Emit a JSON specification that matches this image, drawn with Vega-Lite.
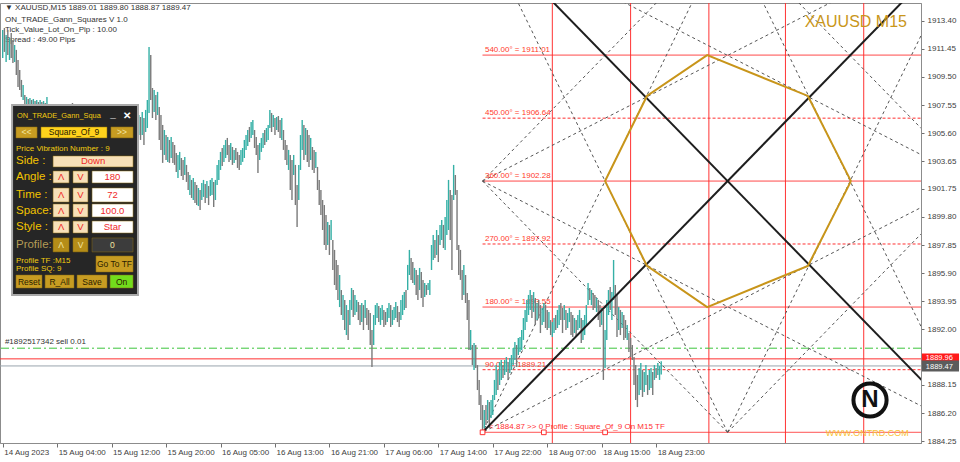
{
"$schema":"https://vega.github.io/schema/vega-lite/v6.json",
"width":921,"height":440,
"autosize":{"type":"none"},
"padding":{"left":0,"top":3,"right":39,"bottom":19},
"background":"white",
"config":{"view":{"stroke":"#8c8c8c","strokeWidth":1},"font":"Liberation Sans","text":{"font":"Liberation Sans"}},
"datasets":{
"bars":[
{"i":0,"h":1912.75,"l":1910.81,"u":1},{"i":1,"h":1912.89,"l":1911.23,"u":0},{"i":2,"h":1912.40,"l":1910.53,"u":1},{"i":3,"h":1912.75,"l":1911.02,"u":0},{"i":4,"h":1912.20,"l":1910.67,"u":1},{"i":5,"h":1912.54,"l":1910.81,"u":0},{"i":6,"h":1912.06,"l":1910.46,"u":0},{"i":7,"h":1911.71,"l":1910.53,"u":1},{"i":8,"h":1911.37,"l":1909.63,"u":0},{"i":9,"h":1910.67,"l":1908.80,"u":0},
{"i":10,"h":1909.98,"l":1908.59,"u":0},{"i":11,"h":1909.29,"l":1908.11,"u":0},{"i":12,"h":1908.94,"l":1907.90,"u":1},{"i":13,"h":1908.25,"l":1907.35,"u":0},{"i":14,"h":1908.11,"l":1907.07,"u":1},{"i":15,"h":1907.97,"l":1906.86,"u":0},{"i":16,"h":1908.04,"l":1906.65,"u":1},{"i":17,"h":1907.90,"l":1906.51,"u":0},{"i":18,"h":1907.97,"l":1906.79,"u":1},{"i":19,"h":1907.83,"l":1906.65,"u":0},
{"i":20,"h":1907.90,"l":1906.93,"u":1},{"i":21,"h":1907.76,"l":1906.72,"u":0},{"i":22,"h":1907.90,"l":1906.51,"u":1},{"i":23,"h":1907.76,"l":1906.38,"u":0},{"i":24,"h":1907.83,"l":1906.58,"u":1},{"i":25,"h":1907.69,"l":1906.44,"u":0},{"i":26,"h":1908.11,"l":1906.86,"u":1},{"i":27,"h":1907.55,"l":1906.17,"u":0},{"i":28,"h":1907.35,"l":1905.82,"u":0},{"i":29,"h":1907.07,"l":1905.47,"u":0},
{"i":30,"h":1906.86,"l":1905.27,"u":1},{"i":31,"h":1906.65,"l":1905.13,"u":0},{"i":32,"h":1906.86,"l":1905.40,"u":1},{"i":33,"h":1907.07,"l":1905.68,"u":1},{"i":34,"h":1907.21,"l":1905.82,"u":1},{"i":35,"h":1907.35,"l":1905.96,"u":0},{"i":36,"h":1907.21,"l":1905.75,"u":1},{"i":37,"h":1907.42,"l":1906.17,"u":1},{"i":38,"h":1907.49,"l":1906.24,"u":0},{"i":39,"h":1907.35,"l":1906.03,"u":1},
{"i":40,"h":1907.55,"l":1906.38,"u":1},{"i":41,"h":1907.69,"l":1906.51,"u":0},{"i":42,"h":1907.42,"l":1906.10,"u":0},{"i":43,"h":1907.21,"l":1905.82,"u":0},{"i":44,"h":1907.00,"l":1905.54,"u":0},{"i":45,"h":1906.79,"l":1905.27,"u":1},{"i":46,"h":1906.51,"l":1904.99,"u":0},{"i":47,"h":1906.65,"l":1905.13,"u":1},{"i":48,"h":1906.38,"l":1904.78,"u":0},{"i":49,"h":1906.17,"l":1904.57,"u":0},
{"i":50,"h":1906.38,"l":1904.85,"u":1},{"i":51,"h":1906.10,"l":1904.44,"u":0},{"i":52,"h":1905.82,"l":1904.30,"u":0},{"i":53,"h":1906.03,"l":1904.57,"u":1},{"i":54,"h":1906.24,"l":1904.71,"u":1},{"i":55,"h":1905.96,"l":1904.44,"u":0},{"i":56,"h":1905.68,"l":1904.09,"u":0},{"i":57,"h":1905.82,"l":1904.23,"u":1},{"i":58,"h":1906.03,"l":1904.50,"u":1},{"i":59,"h":1906.24,"l":1904.78,"u":1},
{"i":60,"h":1906.10,"l":1904.64,"u":0},{"i":61,"h":1905.89,"l":1904.30,"u":0},{"i":62,"h":1905.68,"l":1904.02,"u":0},{"i":63,"h":1905.47,"l":1903.88,"u":0},{"i":64,"h":1905.75,"l":1904.16,"u":1},{"i":65,"h":1905.96,"l":1904.44,"u":1},{"i":66,"h":1906.17,"l":1904.71,"u":1},{"i":67,"h":1906.38,"l":1904.92,"u":1},{"i":68,"h":1906.10,"l":1904.57,"u":0},{"i":69,"h":1905.89,"l":1904.37,"u":0},
{"i":70,"h":1906.17,"l":1904.71,"u":1},{"i":71,"h":1906.44,"l":1904.99,"u":1},{"i":72,"h":1906.65,"l":1905.20,"u":1},{"i":73,"h":1906.44,"l":1904.92,"u":0},{"i":74,"h":1906.24,"l":1904.71,"u":0},{"i":75,"h":1906.51,"l":1905.06,"u":1},{"i":76,"h":1906.72,"l":1905.34,"u":1},{"i":77,"h":1906.58,"l":1905.13,"u":0},{"i":78,"h":1906.38,"l":1904.85,"u":0},{"i":79,"h":1906.65,"l":1905.27,"u":1},
{"i":80,"h":1906.86,"l":1905.47,"u":1},{"i":81,"h":1906.72,"l":1905.13,"u":0},{"i":82,"h":1907.07,"l":1905.47,"u":1},{"i":83,"h":1906.65,"l":1904.78,"u":0},{"i":84,"h":1907.21,"l":1905.68,"u":1},{"i":85,"h":1907.90,"l":1905.96,"u":1},{"i":86,"h":1911.57,"l":1907.00,"u":1},{"i":87,"h":1911.02,"l":1907.90,"u":0},{"i":88,"h":1908.73,"l":1906.65,"u":0},{"i":89,"h":1908.59,"l":1907.07,"u":1},
{"i":90,"h":1908.25,"l":1906.51,"u":0},{"i":91,"h":1908.46,"l":1906.86,"u":1},{"i":92,"h":1907.42,"l":1905.13,"u":0},{"i":93,"h":1906.86,"l":1904.44,"u":0},{"i":94,"h":1906.17,"l":1903.54,"u":0},{"i":95,"h":1905.82,"l":1904.09,"u":1},{"i":96,"h":1905.47,"l":1903.74,"u":0},{"i":97,"h":1905.34,"l":1903.61,"u":1},{"i":98,"h":1905.13,"l":1903.54,"u":0},{"i":99,"h":1905.34,"l":1903.88,"u":1},
{"i":100,"h":1904.99,"l":1903.54,"u":0},{"i":101,"h":1904.78,"l":1903.40,"u":0},{"i":102,"h":1904.23,"l":1902.91,"u":0},{"i":103,"h":1904.09,"l":1902.50,"u":1},{"i":104,"h":1904.30,"l":1903.05,"u":1},{"i":105,"h":1903.88,"l":1902.63,"u":0},{"i":106,"h":1903.74,"l":1902.36,"u":0},{"i":107,"h":1903.95,"l":1902.70,"u":1},{"i":108,"h":1903.40,"l":1902.22,"u":0},{"i":109,"h":1902.91,"l":1901.66,"u":0},
{"i":110,"h":1902.70,"l":1901.32,"u":1},{"i":111,"h":1902.36,"l":1901.11,"u":0},{"i":112,"h":1902.50,"l":1900.97,"u":1},{"i":113,"h":1902.22,"l":1900.76,"u":0},{"i":114,"h":1902.01,"l":1900.62,"u":0},{"i":115,"h":1901.80,"l":1900.55,"u":1},{"i":116,"h":1901.66,"l":1900.28,"u":0},{"i":117,"h":1902.15,"l":1900.97,"u":1},{"i":118,"h":1902.36,"l":1901.18,"u":1},{"i":119,"h":1902.08,"l":1900.76,"u":0},
{"i":120,"h":1902.29,"l":1901.11,"u":1},{"i":121,"h":1901.94,"l":1900.62,"u":0},{"i":122,"h":1902.36,"l":1901.25,"u":1},{"i":123,"h":1902.50,"l":1901.32,"u":1},{"i":124,"h":1902.22,"l":1900.48,"u":0},{"i":125,"h":1902.36,"l":1900.97,"u":1},{"i":126,"h":1903.40,"l":1902.01,"u":1},{"i":127,"h":1903.74,"l":1902.36,"u":1},{"i":128,"h":1904.30,"l":1903.05,"u":1},{"i":129,"h":1904.57,"l":1903.33,"u":0},
{"i":130,"h":1904.78,"l":1903.61,"u":1},{"i":131,"h":1905.13,"l":1903.88,"u":1},{"i":132,"h":1905.27,"l":1904.09,"u":0},{"i":133,"h":1904.78,"l":1903.61,"u":0},{"i":134,"h":1904.92,"l":1903.74,"u":1},{"i":135,"h":1904.64,"l":1903.40,"u":0},{"i":136,"h":1904.44,"l":1903.54,"u":1},{"i":137,"h":1904.57,"l":1903.74,"u":0},{"i":138,"h":1904.30,"l":1903.19,"u":0},{"i":139,"h":1904.09,"l":1903.05,"u":0},
{"i":140,"h":1904.44,"l":1903.40,"u":1},{"i":141,"h":1904.57,"l":1903.61,"u":1},{"i":142,"h":1905.13,"l":1903.88,"u":1},{"i":143,"h":1905.47,"l":1904.44,"u":1},{"i":144,"h":1905.82,"l":1904.71,"u":1},{"i":145,"h":1906.03,"l":1904.99,"u":0},{"i":146,"h":1906.38,"l":1905.27,"u":1},{"i":147,"h":1906.51,"l":1905.47,"u":1},{"i":148,"h":1905.82,"l":1904.57,"u":0},{"i":149,"h":1905.34,"l":1904.09,"u":0},
{"i":150,"h":1904.78,"l":1902.84,"u":0},{"i":151,"h":1904.92,"l":1903.74,"u":1},{"i":152,"h":1905.27,"l":1904.30,"u":1},{"i":153,"h":1905.61,"l":1904.57,"u":1},{"i":154,"h":1905.82,"l":1904.78,"u":0},{"i":155,"h":1905.96,"l":1904.99,"u":1},{"i":156,"h":1906.17,"l":1905.13,"u":1},{"i":157,"h":1907.21,"l":1905.96,"u":1},{"i":158,"h":1907.00,"l":1905.68,"u":0},{"i":159,"h":1906.86,"l":1906.03,"u":1},
{"i":160,"h":1906.65,"l":1905.47,"u":0},{"i":161,"h":1906.72,"l":1905.82,"u":1},{"i":162,"h":1906.79,"l":1905.68,"u":0},{"i":163,"h":1906.51,"l":1905.27,"u":0},{"i":164,"h":1906.65,"l":1905.13,"u":1},{"i":165,"h":1905.82,"l":1904.44,"u":0},{"i":166,"h":1905.13,"l":1903.74,"u":0},{"i":167,"h":1904.78,"l":1903.40,"u":0},{"i":168,"h":1904.44,"l":1903.05,"u":1},{"i":169,"h":1904.09,"l":1901.66,"u":0},
{"i":170,"h":1903.74,"l":1900.97,"u":0},{"i":171,"h":1904.09,"l":1902.70,"u":1},{"i":172,"h":1903.40,"l":1900.62,"u":0},{"i":173,"h":1902.01,"l":1899.10,"u":0},{"i":174,"h":1903.40,"l":1900.97,"u":1},{"i":175,"h":1905.47,"l":1903.05,"u":1},{"i":176,"h":1906.51,"l":1904.44,"u":1},{"i":177,"h":1906.17,"l":1903.74,"u":0},{"i":178,"h":1905.96,"l":1904.09,"u":1},{"i":179,"h":1905.82,"l":1903.61,"u":0},
{"i":180,"h":1905.47,"l":1903.26,"u":0},{"i":181,"h":1905.27,"l":1903.74,"u":1},{"i":182,"h":1904.64,"l":1903.05,"u":0},{"i":183,"h":1904.44,"l":1902.84,"u":0},{"i":184,"h":1904.30,"l":1903.19,"u":1},{"i":185,"h":1903.26,"l":1901.66,"u":0},{"i":186,"h":1902.36,"l":1900.62,"u":0},{"i":187,"h":1901.66,"l":1899.93,"u":0},{"i":188,"h":1900.97,"l":1898.89,"u":0},{"i":189,"h":1900.62,"l":1897.85,"u":0},
{"i":190,"h":1899.93,"l":1897.51,"u":0},{"i":191,"h":1899.45,"l":1897.85,"u":1},{"i":192,"h":1899.24,"l":1897.16,"u":0},{"i":193,"h":1899.58,"l":1898.20,"u":1},{"i":194,"h":1898.20,"l":1896.12,"u":0},{"i":195,"h":1897.51,"l":1895.08,"u":0},{"i":196,"h":1896.81,"l":1894.73,"u":0},{"i":197,"h":1896.47,"l":1894.04,"u":0},{"i":198,"h":1895.77,"l":1893.55,"u":1},{"i":199,"h":1894.73,"l":1893.00,"u":0},
{"i":200,"h":1894.39,"l":1892.65,"u":1},{"i":201,"h":1894.04,"l":1891.96,"u":0},{"i":202,"h":1893.69,"l":1891.61,"u":1},{"i":203,"h":1893.35,"l":1891.27,"u":0},{"i":204,"h":1894.04,"l":1892.31,"u":1},{"i":205,"h":1894.87,"l":1893.35,"u":1},{"i":206,"h":1894.73,"l":1892.86,"u":0},{"i":207,"h":1894.39,"l":1893.00,"u":1},{"i":208,"h":1894.04,"l":1893.21,"u":1},{"i":209,"h":1893.90,"l":1892.65,"u":0},
{"i":210,"h":1893.69,"l":1892.31,"u":0},{"i":211,"h":1893.83,"l":1892.51,"u":1},{"i":212,"h":1893.69,"l":1891.96,"u":0},{"i":213,"h":1894.04,"l":1892.79,"u":1},{"i":214,"h":1893.49,"l":1892.31,"u":0},{"i":215,"h":1893.35,"l":1891.96,"u":0},{"i":216,"h":1893.14,"l":1890.92,"u":0},{"i":217,"h":1891.96,"l":1889.40,"u":0},{"i":218,"h":1893.00,"l":1890.92,"u":1},{"i":219,"h":1893.69,"l":1892.31,"u":1},
{"i":220,"h":1893.83,"l":1892.79,"u":1},{"i":221,"h":1893.62,"l":1892.51,"u":0},{"i":222,"h":1893.49,"l":1892.31,"u":1},{"i":223,"h":1893.69,"l":1892.65,"u":1},{"i":224,"h":1893.35,"l":1892.17,"u":0},{"i":225,"h":1893.21,"l":1892.31,"u":0},{"i":226,"h":1893.49,"l":1892.51,"u":1},{"i":227,"h":1893.83,"l":1892.79,"u":1},{"i":228,"h":1893.69,"l":1892.17,"u":0},{"i":229,"h":1893.35,"l":1892.31,"u":1},
{"i":230,"h":1893.56,"l":1892.65,"u":1},{"i":231,"h":1893.90,"l":1892.79,"u":1},{"i":232,"h":1893.62,"l":1892.51,"u":0},{"i":233,"h":1893.21,"l":1892.17,"u":0},{"i":234,"h":1894.04,"l":1892.65,"u":1},{"i":235,"h":1894.39,"l":1893.00,"u":1},{"i":236,"h":1894.59,"l":1893.35,"u":1},{"i":237,"h":1894.73,"l":1893.49,"u":0},{"i":238,"h":1896.47,"l":1894.73,"u":1},{"i":239,"h":1897.51,"l":1895.77,"u":1},
{"i":240,"h":1896.95,"l":1895.43,"u":0},{"i":241,"h":1896.67,"l":1895.22,"u":0},{"i":242,"h":1896.26,"l":1895.08,"u":1},{"i":243,"h":1896.12,"l":1894.39,"u":0},{"i":244,"h":1895.77,"l":1894.04,"u":0},{"i":245,"h":1896.26,"l":1894.73,"u":1},{"i":246,"h":1895.98,"l":1894.18,"u":0},{"i":247,"h":1895.43,"l":1893.56,"u":0},{"i":248,"h":1895.22,"l":1894.25,"u":1},{"i":249,"h":1895.08,"l":1894.39,"u":0},
{"i":250,"h":1895.22,"l":1894.73,"u":1},{"i":251,"h":1895.43,"l":1894.39,"u":1},{"i":252,"h":1897.85,"l":1896.12,"u":1},{"i":253,"h":1898.54,"l":1896.81,"u":1},{"i":254,"h":1898.20,"l":1896.95,"u":0},{"i":255,"h":1898.89,"l":1897.16,"u":1},{"i":256,"h":1898.54,"l":1896.67,"u":0},{"i":257,"h":1899.24,"l":1897.85,"u":1},{"i":258,"h":1899.58,"l":1898.20,"u":1},{"i":259,"h":1899.24,"l":1897.64,"u":0},
{"i":260,"h":1899.79,"l":1897.51,"u":1},{"i":261,"h":1900.97,"l":1898.54,"u":1},{"i":262,"h":1902.36,"l":1898.89,"u":1},{"i":263,"h":1901.66,"l":1898.20,"u":0},{"i":264,"h":1901.32,"l":1896.12,"u":0},{"i":265,"h":1903.40,"l":1900.97,"u":1},{"i":266,"h":1902.70,"l":1901.32,"u":0},{"i":267,"h":1901.66,"l":1897.51,"u":0},{"i":268,"h":1897.85,"l":1895.77,"u":0},{"i":269,"h":1897.51,"l":1895.43,"u":0},
{"i":270,"h":1896.12,"l":1894.04,"u":0},{"i":271,"h":1896.47,"l":1894.39,"u":1},{"i":272,"h":1895.77,"l":1893.83,"u":0},{"i":273,"h":1894.52,"l":1892.65,"u":0},{"i":274,"h":1894.04,"l":1890.57,"u":0},{"i":275,"h":1891.96,"l":1890.57,"u":1},{"i":276,"h":1890.92,"l":1889.53,"u":0},{"i":277,"h":1891.06,"l":1889.19,"u":1},{"i":278,"h":1890.92,"l":1889.33,"u":0},{"i":279,"h":1889.53,"l":1887.80,"u":0},
{"i":280,"h":1888.50,"l":1886.76,"u":0},{"i":281,"h":1887.46,"l":1885.72,"u":0},{"i":282,"h":1886.76,"l":1884.87,"u":0},{"i":283,"h":1886.42,"l":1885.17,"u":1},{"i":284,"h":1886.76,"l":1885.38,"u":0},{"i":285,"h":1887.11,"l":1885.72,"u":1},{"i":286,"h":1886.97,"l":1885.17,"u":0},{"i":287,"h":1887.11,"l":1885.86,"u":1},{"i":288,"h":1887.46,"l":1886.07,"u":1},{"i":289,"h":1888.50,"l":1887.11,"u":1},
{"i":290,"h":1889.53,"l":1887.46,"u":1},{"i":291,"h":1889.19,"l":1887.80,"u":0},{"i":292,"h":1889.74,"l":1888.15,"u":1},{"i":293,"h":1889.88,"l":1888.50,"u":1},{"i":294,"h":1889.53,"l":1888.63,"u":0},{"i":295,"h":1889.88,"l":1888.84,"u":1},{"i":296,"h":1890.09,"l":1889.05,"u":1},{"i":297,"h":1889.74,"l":1888.50,"u":0},{"i":298,"h":1890.02,"l":1888.98,"u":1},{"i":299,"h":1890.23,"l":1889.19,"u":1},
{"i":300,"h":1890.71,"l":1889.53,"u":1},{"i":301,"h":1891.13,"l":1889.88,"u":1},{"i":302,"h":1890.92,"l":1889.40,"u":0},{"i":303,"h":1891.41,"l":1890.23,"u":1},{"i":304,"h":1891.48,"l":1890.43,"u":1},{"i":305,"h":1891.96,"l":1890.57,"u":1},{"i":306,"h":1892.79,"l":1891.27,"u":1},{"i":307,"h":1893.35,"l":1891.96,"u":1},{"i":308,"h":1894.04,"l":1892.51,"u":1},{"i":309,"h":1894.39,"l":1893.00,"u":1},
{"i":310,"h":1894.73,"l":1893.35,"u":1},{"i":311,"h":1894.39,"l":1892.79,"u":0},{"i":312,"h":1894.59,"l":1893.21,"u":1},{"i":313,"h":1894.18,"l":1892.31,"u":0},{"i":314,"h":1893.83,"l":1892.65,"u":1},{"i":315,"h":1894.04,"l":1892.79,"u":0},{"i":316,"h":1893.69,"l":1891.75,"u":0},{"i":317,"h":1893.49,"l":1892.31,"u":1},{"i":318,"h":1893.83,"l":1892.51,"u":1},{"i":319,"h":1893.69,"l":1892.10,"u":0},
{"i":320,"h":1893.35,"l":1891.96,"u":0},{"i":321,"h":1893.21,"l":1892.10,"u":1},{"i":322,"h":1892.65,"l":1891.61,"u":0},{"i":323,"h":1892.51,"l":1891.48,"u":1},{"i":324,"h":1892.79,"l":1891.75,"u":1},{"i":325,"h":1893.00,"l":1891.96,"u":0},{"i":326,"h":1893.35,"l":1892.10,"u":1},{"i":327,"h":1893.69,"l":1892.31,"u":1},{"i":328,"h":1893.83,"l":1892.65,"u":0},{"i":329,"h":1893.49,"l":1891.75,"u":0},
{"i":330,"h":1893.69,"l":1892.65,"u":1},{"i":331,"h":1893.35,"l":1891.96,"u":0},{"i":332,"h":1893.14,"l":1892.10,"u":1},{"i":333,"h":1893.49,"l":1892.51,"u":1},{"i":334,"h":1893.21,"l":1891.61,"u":0},{"i":335,"h":1893.00,"l":1891.48,"u":0},{"i":336,"h":1892.79,"l":1891.75,"u":1},{"i":337,"h":1892.65,"l":1891.48,"u":0},{"i":338,"h":1893.00,"l":1891.96,"u":1},{"i":339,"h":1893.35,"l":1892.10,"u":1},
{"i":340,"h":1892.79,"l":1891.06,"u":0},{"i":341,"h":1892.65,"l":1891.27,"u":1},{"i":342,"h":1893.00,"l":1891.61,"u":1},{"i":343,"h":1893.69,"l":1892.31,"u":1},{"i":344,"h":1895.22,"l":1893.69,"u":1},{"i":345,"h":1894.87,"l":1894.04,"u":0},{"i":346,"h":1894.73,"l":1893.69,"u":1},{"i":347,"h":1894.52,"l":1893.35,"u":0},{"i":348,"h":1894.39,"l":1893.49,"u":0},{"i":349,"h":1894.18,"l":1893.21,"u":1},
{"i":350,"h":1894.04,"l":1892.65,"u":0},{"i":351,"h":1893.69,"l":1892.17,"u":0},{"i":352,"h":1893.49,"l":1892.31,"u":1},{"i":353,"h":1893.35,"l":1888.50,"u":0},{"i":354,"h":1891.96,"l":1889.33,"u":1},{"i":355,"h":1894.04,"l":1891.27,"u":1},{"i":356,"h":1894.73,"l":1893.00,"u":1},{"i":357,"h":1894.94,"l":1893.35,"u":0},{"i":358,"h":1894.59,"l":1892.65,"u":1},{"i":359,"h":1896.81,"l":1894.04,"u":1},
{"i":360,"h":1895.08,"l":1893.00,"u":0},{"i":361,"h":1894.39,"l":1891.48,"u":0},{"i":362,"h":1893.56,"l":1891.96,"u":1},{"i":363,"h":1893.35,"l":1891.61,"u":0},{"i":364,"h":1893.21,"l":1892.10,"u":1},{"i":365,"h":1893.00,"l":1891.27,"u":0},{"i":366,"h":1892.65,"l":1891.41,"u":0},{"i":367,"h":1892.31,"l":1891.27,"u":1},{"i":368,"h":1891.75,"l":1890.43,"u":0},{"i":369,"h":1891.41,"l":1890.09,"u":0},
{"i":370,"h":1890.92,"l":1889.88,"u":0},{"i":371,"h":1890.09,"l":1888.15,"u":0},{"i":372,"h":1889.53,"l":1887.11,"u":0},{"i":373,"h":1888.84,"l":1886.62,"u":0},{"i":374,"h":1889.33,"l":1887.46,"u":1},{"i":375,"h":1889.67,"l":1887.80,"u":1},{"i":376,"h":1889.19,"l":1887.32,"u":0},{"i":377,"h":1889.05,"l":1887.67,"u":1},{"i":378,"h":1889.53,"l":1888.15,"u":1},{"i":379,"h":1888.84,"l":1887.46,"u":0},
{"i":380,"h":1889.19,"l":1887.80,"u":1},{"i":381,"h":1889.33,"l":1887.94,"u":1},{"i":382,"h":1889.05,"l":1887.46,"u":0},{"i":383,"h":1889.53,"l":1888.50,"u":1},{"i":384,"h":1889.33,"l":1888.63,"u":0},{"i":385,"h":1889.67,"l":1888.84,"u":1},{"i":386,"h":1889.46,"l":1888.50,"u":1},{"i":387,"h":1889.80,"l":1888.87,"u":1}
],
"vlines":[{"t":323},{"t":369},{"t":415},{"t":460},{"t":506}],
"levels":[
{"p":1884.87,"k":"solid","lab":""},{"p":1889.21,"k":"dash","lab":"90.00° = 1889.21"},{"p":1893.55,"k":"solid","lab":"180.00° = 1893.55"},{"p":1897.92,"k":"dash","lab":"270.00° = 1897.92"},{"p":1902.28,"k":"solid","lab":"360.00° = 1902.28"},{"p":1906.64,"k":"dash","lab":"450.00° = 1906.64"},{"p":1911.01,"k":"solid","lab":"540.00° = 1911.01"}
],
"star":[
{"t1":426,"p1":1919.69,"t2":282,"p2":1884.87},{"t1":426,"p1":1919.69,"t2":570,"p2":1884.87},
{"t1":570,"p1":1902.28,"t2":282,"p2":1919.69},{"t1":570,"p1":1902.28,"t2":282,"p2":1884.87},
{"t1":426,"p1":1884.87,"t2":282,"p2":1919.69},{"t1":426,"p1":1884.87,"t2":570,"p2":1919.69},
{"t1":282,"p1":1902.28,"t2":570,"p2":1919.69},{"t1":282,"p1":1902.28,"t2":570,"p2":1884.87},
{"t1":282,"p1":1902.28,"t2":426,"p2":1919.69},{"t1":426,"p1":1919.69,"t2":570,"p2":1902.28},
{"t1":570,"p1":1902.28,"t2":426,"p2":1884.87},{"t1":426,"p1":1884.87,"t2":282,"p2":1902.28}
],
"black":[{"t1":282,"p1":1884.87,"t2":570,"p2":1919.69},{"t1":282,"p1":1919.69,"t2":570,"p2":1884.87}],
"oct":[
{"o":0,"t":498.5,"p":1902.28},{"o":1,"t":473.2,"p":1908.18},{"o":2,"t":414,"p":1911.01},{"o":3,"t":378.6,"p":1908.18},{"o":4,"t":354,"p":1902.28},{"o":5,"t":378.6,"p":1896.40},{"o":6,"t":414,"p":1893.55},{"o":7,"t":473.2,"p":1896.40},{"o":8,"t":498.5,"p":1902.28}
],
"marks":[{"t":282,"p":1884.87},{"t":318,"p":1884.87},{"t":354,"p":1884.87}],
"header":[
{"t":1.3,"p":1914.25,"s":"▼ XAUUSD,M15  1889.01 1889.80 1888.87 1889.47"},
{"t":1.3,"p":1913.44,"s":"ON_TRADE_Gann_Squares V 1.0"},
{"t":1.3,"p":1912.72,"s":"Tick_Value_Lot_On_Pip : 10.00"},
{"t":1.3,"p":1912.03,"s":"Spread : 49.00  Pips"},
{"t":1.3,"p":1891.10,"s":"#1892517342 sell 0.01"}
],
"pRects":[
{"x":7.8,"x2":20.2,"y":1905.27,"y2":1906.03,"r":"gold"},
{"x":22.5,"x2":61.3,"y":1905.27,"y2":1906.03,"r":"yellow"},
{"x":63.6,"x2":76.6,"y":1905.27,"y2":1906.03,"r":"gold"},
{"x":29.6,"x2":76.6,"y":1903.26,"y2":1904.02,"r":"wheat"},
{"x":29.6,"x2":39.0,"y":1902.15,"y2":1902.98,"r":"wheat"},{"x":41.3,"x2":50.1,"y":1902.15,"y2":1902.98,"r":"wheat"},{"x":52.5,"x2":76.6,"y":1902.15,"y2":1902.98,"r":"white"},
{"x":29.6,"x2":39.0,"y":1900.83,"y2":1901.80,"r":"wheat"},{"x":41.3,"x2":50.1,"y":1900.83,"y2":1901.80,"r":"wheat"},{"x":52.5,"x2":76.6,"y":1900.83,"y2":1901.80,"r":"white"},
{"x":29.6,"x2":39.0,"y":1899.79,"y2":1900.69,"r":"wheat"},{"x":41.3,"x2":50.1,"y":1899.79,"y2":1900.69,"r":"wheat"},{"x":52.5,"x2":76.6,"y":1899.79,"y2":1900.69,"r":"white"},
{"x":29.6,"x2":39.0,"y":1898.68,"y2":1899.51,"r":"wheat"},{"x":41.3,"x2":50.1,"y":1898.68,"y2":1899.51,"r":"wheat"},{"x":52.5,"x2":76.6,"y":1898.68,"y2":1899.51,"r":"white"},
{"x":29.6,"x2":39.0,"y":1897.37,"y2":1898.34,"r":"goldDark"},{"x":41.3,"x2":50.1,"y":1897.37,"y2":1898.34,"r":"goldDark"},{"x":52.5,"x2":76.6,"y":1897.37,"y2":1898.34,"r":"dark"},
{"x":54.8,"x2":76.6,"y":1895.98,"y2":1897.09,"r":"gold"},
{"x":7.8,"x2":23.1,"y":1894.87,"y2":1895.77,"r":"gold"},{"x":24.9,"x2":41.9,"y":1894.87,"y2":1895.77,"r":"gold"},{"x":43.7,"x2":61.3,"y":1894.87,"y2":1895.77,"r":"gold"},{"x":63.1,"x2":76.6,"y":1894.87,"y2":1895.77,"r":"green"}
],
"pBig":[
{"t":7.8,"p":1903.64,"s":"Side  :"},{"t":7.8,"p":1902.56,"s":"Angle :"},{"t":7.8,"p":1901.32,"s":"Time  :"},{"t":7.8,"p":1900.24,"s":"Space:"},{"t":7.8,"p":1899.10,"s":"Style :"}
],
"pRed":[
{"t":53.1,"p":1903.64,"s":"Down"},
{"t":34.3,"p":1902.56,"s":"Λ"},{"t":45.7,"p":1902.56,"s":"V"},{"t":64.5,"p":1902.56,"s":"180"},
{"t":34.3,"p":1901.32,"s":"Λ"},{"t":45.7,"p":1901.32,"s":"V"},{"t":64.5,"p":1901.32,"s":"72"},
{"t":34.3,"p":1900.24,"s":"Λ"},{"t":45.7,"p":1900.24,"s":"V"},{"t":64.5,"p":1900.24,"s":"100.0"},
{"t":34.3,"p":1899.10,"s":"Λ"},{"t":45.7,"p":1899.10,"s":"V"},{"t":64.5,"p":1899.10,"s":"Star"}
],
"pBtn":[
{"t":41.9,"p":1905.65,"s":"Square_Of_9"},{"t":65.7,"p":1896.53,"s":"Go To TF"},
{"t":15.5,"p":1895.32,"s":"Reset"},{"t":33.4,"p":1895.32,"s":"R_All"},{"t":52.5,"p":1895.32,"s":"Save"},{"t":69.9,"p":1895.32,"s":"On"}
],
"pLight":[
{"t":14,"p":1905.65,"s":"<<"},{"t":70.1,"p":1905.65,"s":">>"},{"t":34.3,"p":1897.85,"s":"Λ"},{"t":45.7,"p":1897.85,"s":"V"},{"t":64.5,"p":1897.85,"s":"0"}
],
"pSmall":[
{"t":7.8,"p":1904.50,"s":"Price Vibration Number : 9"},
{"t":7.8,"p":1896.72,"s":"Profile TF :M15"},
{"t":7.8,"p":1896.18,"s":"Profile SQ:  9"}
]
},
"layer":[
{"data":{"name":"vlines"},"mark":{"type":"rule","color":"#ff3333","strokeWidth":1},
 "encoding":{"x":{"field":"t","type":"quantitative"}}},
{"data":{"values":[{"p":1890.70}]},"mark":{"type":"rule","color":"#3cc43c","strokeWidth":1,"strokeDash":[8,3,2,3]},
 "encoding":{"y":{"field":"p","type":"quantitative"}}},
{"data":{"values":[{"p":1889.96}]},"mark":{"type":"rule","color":"#ff3030","strokeWidth":1},
 "encoding":{"y":{"field":"p","type":"quantitative"}}},
{"data":{"values":[{"p":1889.47}]},"mark":{"type":"rule","color":"#9aa4ae","strokeWidth":1},
 "encoding":{"y":{"field":"p","type":"quantitative"}}},
{"data":{"name":"levels"},"mark":{"type":"rule","color":"#ff3030","strokeWidth":1,"clip":true},
 "encoding":{"x":{"datum":282,"type":"quantitative"},"x2":{"datum":570},"y":{"field":"p","type":"quantitative"},
  "strokeDash":{"field":"k","type":"nominal","scale":{"domain":["solid","dash"],"range":[[1,0],[3,2]]},"legend":null}}},
{"data":{"name":"star"},"mark":{"type":"rule","color":"#555555","strokeWidth":1,"strokeDash":[3,3],"clip":true},
 "encoding":{"x":{"field":"t1","type":"quantitative"},"y":{"field":"p1","type":"quantitative"},"x2":{"field":"t2"},"y2":{"field":"p2"}}},
{"data":{"name":"levels"},"mark":{"type":"text","align":"left","baseline":"bottom","dy":-1,"fontSize":8,"color":"#ff3a2a"},
 "encoding":{"x":{"datum":283.4,"type":"quantitative"},"y":{"field":"p","type":"quantitative"},"text":{"field":"lab"}}},
{"data":{"values":[{"t":285.8,"p":1884.87,"s":"< 1884.87 >> 0 Profile : Square_Of_9 On M15 TF"}]},"mark":{"type":"text","align":"left","baseline":"bottom","dy":-1,"fontSize":8,"color":"#ff3030"},
 "encoding":{"x":{"field":"t","type":"quantitative"},"y":{"field":"p","type":"quantitative"},"text":{"field":"s"}}},
{"data":{"name":"header"},"mark":{"type":"text","align":"left","baseline":"middle","fontSize":8,"color":"#333333"},
 "encoding":{"x":{"field":"t","type":"quantitative"},"y":{"field":"p","type":"quantitative"},"text":{"field":"s"}}},
{"data":{"name":"bars"},"mark":{"type":"rule","strokeWidth":1.4},
 "encoding":{
  "x":{"field":"i","type":"quantitative","scale":{"domain":[-1.59,539.66],"nice":false,"zero":false},
   "axis":{"values":[0,32,64,96,128,160,192,224,256,288,320,352,384],"tickCount":30,
    "labelExpr":"['14 Aug 2023','15 Aug 04:00','15 Aug 12:00','15 Aug 20:00','16 Aug 05:00','16 Aug 13:00','16 Aug 21:00','17 Aug 06:00','17 Aug 14:00','17 Aug 22:00','18 Aug 07:00','18 Aug 15:00','18 Aug 23:00'][round(datum.value/32)]",
    "labelAlign":"left","labelOffset":1,"labelFontSize":8,"labelColor":"#404040","labelFont":"Liberation Sans","labelPadding":1,"labelFlush":false,"labelOverlap":false,
    "tickSize":4,"tickColor":"#707070","domainColor":"#8c8c8c","grid":false,"title":null}},
  "y":{"field":"l","type":"quantitative","scale":{"domain":[1884.13,1914.62],"nice":false,"zero":false},
   "axis":{"orient":"right","values":[1884.25,1886.20,1888.15,1892.00,1893.95,1895.90,1897.85,1899.80,1901.75,1903.65,1905.60,1907.55,1909.50,1911.45,1913.40],"tickCount":30,
    "format":".2f","labelFontSize":8,"labelColor":"#404040","labelFont":"Liberation Sans","labelPadding":3,"tickSize":3,"tickColor":"#707070","domainColor":"#8c8c8c","grid":false,"title":null,"labelOverlap":false,"labelFlush":false}},
  "y2":{"field":"h"},
  "color":{"condition":{"test":"datum.u == 1","value":"#35b0a6"},"value":"#7a7a7a"}}},
{"data":{"name":"black"},"mark":{"type":"rule","color":"#1e1e1e","strokeWidth":2,"clip":true},
 "encoding":{"x":{"field":"t1","type":"quantitative"},"y":{"field":"p1","type":"quantitative"},"x2":{"field":"t2"},"y2":{"field":"p2"}}},
{"data":{"name":"oct"},"mark":{"type":"line","color":"#c8951a","strokeWidth":2},
 "encoding":{"x":{"field":"t","type":"quantitative"},"y":{"field":"p","type":"quantitative"},"order":{"field":"o"}}},
{"data":{"name":"marks"},"mark":{"type":"square","size":22,"filled":true,"fill":"white","stroke":"#ff3030","strokeWidth":1,"opacity":1},
 "encoding":{"x":{"field":"t","type":"quantitative"},"y":{"field":"p","type":"quantitative"}}},
{"data":{"values":[{"t":531.4,"p":1913.31,"s":"XAUUSD M15"}]},"mark":{"type":"text","align":"right","baseline":"middle","fontSize":16,"color":"#c9961a"},
 "encoding":{"x":{"field":"t","type":"quantitative"},"y":{"field":"p","type":"quantitative"},"text":{"field":"s"}}},
{"data":{"values":[{"t":508,"p":1884.82,"s":"WWW.ONTRD.COM"}]},"mark":{"type":"text","align":"center","baseline":"middle","fontSize":9,"color":"#f6c232"},
 "encoding":{"x":{"field":"t","type":"quantitative"},"y":{"field":"p","type":"quantitative"},"text":{"field":"s"}}},
{"data":{"values":[{"t":509.7,"p":1887.11}]},"mark":{"type":"point","shape":"circle","size":1100,"filled":false,"stroke":"#111111","strokeWidth":4,"opacity":1},
 "encoding":{"x":{"field":"t","type":"quantitative"},"y":{"field":"p","type":"quantitative"}}},
{"data":{"values":[{"t":509.7,"p":1887.11,"s":"N"}]},"mark":{"type":"text","align":"center","baseline":"middle","fontSize":24,"fontWeight":"bold","color":"#111111"},
 "encoding":{"x":{"field":"t","type":"quantitative"},"y":{"field":"p","type":"quantitative"},"text":{"field":"s"}}},
{"data":{"values":[{"t":5.5,"t2":79.5,"p":1894.39,"p2":1907.55}]},"mark":{"type":"rect","fill":"#262626","stroke":"#a9a9a9","strokeWidth":2},
 "encoding":{"x":{"field":"t","type":"quantitative"},"x2":{"field":"t2"},"y":{"field":"p","type":"quantitative"},"y2":{"field":"p2"}}},
{"data":{"name":"pRects"},"mark":{"type":"rect","stroke":"#8a6a10","strokeWidth":0.5},
 "encoding":{"x":{"field":"x","type":"quantitative"},"x2":{"field":"x2"},"y":{"field":"y","type":"quantitative"},"y2":{"field":"y2"},
  "fill":{"field":"r","type":"nominal","legend":null,"scale":{"domain":["gold","yellow","wheat","white","goldDark","dark","green"],"range":["#c79c22","#ffd21c","#f7e0b8","#ffffff","#b58d18","#3c3c3c","#72dd1c"]}}}},
{"data":{"name":"pBig"},"mark":{"type":"text","align":"left","baseline":"middle","fontSize":11.5,"color":"#f2c200"},
 "encoding":{"x":{"field":"t","type":"quantitative"},"y":{"field":"p","type":"quantitative"},"text":{"field":"s"}}},
{"data":{"values":[{"t":7.8,"p":1897.85,"s":"Profile:"}]},"mark":{"type":"text","align":"left","baseline":"middle","fontSize":11.5,"color":"#b39b55"},
 "encoding":{"x":{"field":"t","type":"quantitative"},"y":{"field":"p","type":"quantitative"},"text":{"field":"s"}}},
{"data":{"name":"pRed"},"mark":{"type":"text","align":"center","baseline":"middle","fontSize":9.5,"color":"#f02828"},
 "encoding":{"x":{"field":"t","type":"quantitative"},"y":{"field":"p","type":"quantitative"},"text":{"field":"s"}}},
{"data":{"name":"pBtn"},"mark":{"type":"text","align":"center","baseline":"middle","fontSize":8.5,"color":"#2a1c00"},
 "encoding":{"x":{"field":"t","type":"quantitative"},"y":{"field":"p","type":"quantitative"},"text":{"field":"s"}}},
{"data":{"name":"pLight"},"mark":{"type":"text","align":"center","baseline":"middle","fontSize":8.5,"color":"#f3e6a0"},
 "encoding":{"x":{"field":"t","type":"quantitative"},"y":{"field":"p","type":"quantitative"},"text":{"field":"s"}}},
{"data":{"name":"pSmall"},"mark":{"type":"text","align":"left","baseline":"middle","fontSize":8,"color":"#f2cc10"},
 "encoding":{"x":{"field":"t","type":"quantitative"},"y":{"field":"p","type":"quantitative"},"text":{"field":"s"}}},
{"data":{"values":[{"t":8.4,"p":1906.79,"s":"ON_TRADE_Gann_Squa"}]},"mark":{"type":"text","align":"left","baseline":"middle","fontSize":7.4,"color":"#f2cc10"},
 "encoding":{"x":{"field":"t","type":"quantitative"},"y":{"field":"p","type":"quantitative"},"text":{"field":"s"}}},
{"data":{"values":[{"t":64.8,"p":1906.95,"s":"_"},{"t":73,"p":1906.79,"s":"✕"}]},"mark":{"type":"text","align":"center","baseline":"middle","fontSize":10,"fontWeight":"bold","color":"#ffffff"},
 "encoding":{"x":{"field":"t","type":"quantitative"},"y":{"field":"p","type":"quantitative"},"text":{"field":"s"}}},
{"data":{"values":[{"t":540.2,"t2":562,"p":1889.58,"p2":1890.34}]},"mark":{"type":"rect","fill":"#ff1a1a"},
 "encoding":{"x":{"field":"t","type":"quantitative"},"x2":{"field":"t2"},"y":{"field":"p","type":"quantitative"},"y2":{"field":"p2"}}},
{"data":{"values":[{"t":540.2,"t2":562,"p":1889.09,"p2":1889.85}]},"mark":{"type":"rect","fill":"#5c5c5c"},
 "encoding":{"x":{"field":"t","type":"quantitative"},"x2":{"field":"t2"},"y":{"field":"p","type":"quantitative"},"y2":{"field":"p2"}}},
{"data":{"values":[{"t":542.5,"p":1889.96,"s":"1889.96"}]},"mark":{"type":"text","align":"left","baseline":"middle","dy":-1,"fontSize":7.5,"color":"#ffffff"},
 "encoding":{"x":{"field":"t","type":"quantitative"},"y":{"field":"p","type":"quantitative"},"text":{"field":"s"}}},
{"data":{"values":[{"t":542.5,"p":1889.47,"s":"1889.47"}]},"mark":{"type":"text","align":"left","baseline":"middle","dy":1,"fontSize":7.5,"color":"#ffffff"},
 "encoding":{"x":{"field":"t","type":"quantitative"},"y":{"field":"p","type":"quantitative"},"text":{"field":"s"}}}
]
}
